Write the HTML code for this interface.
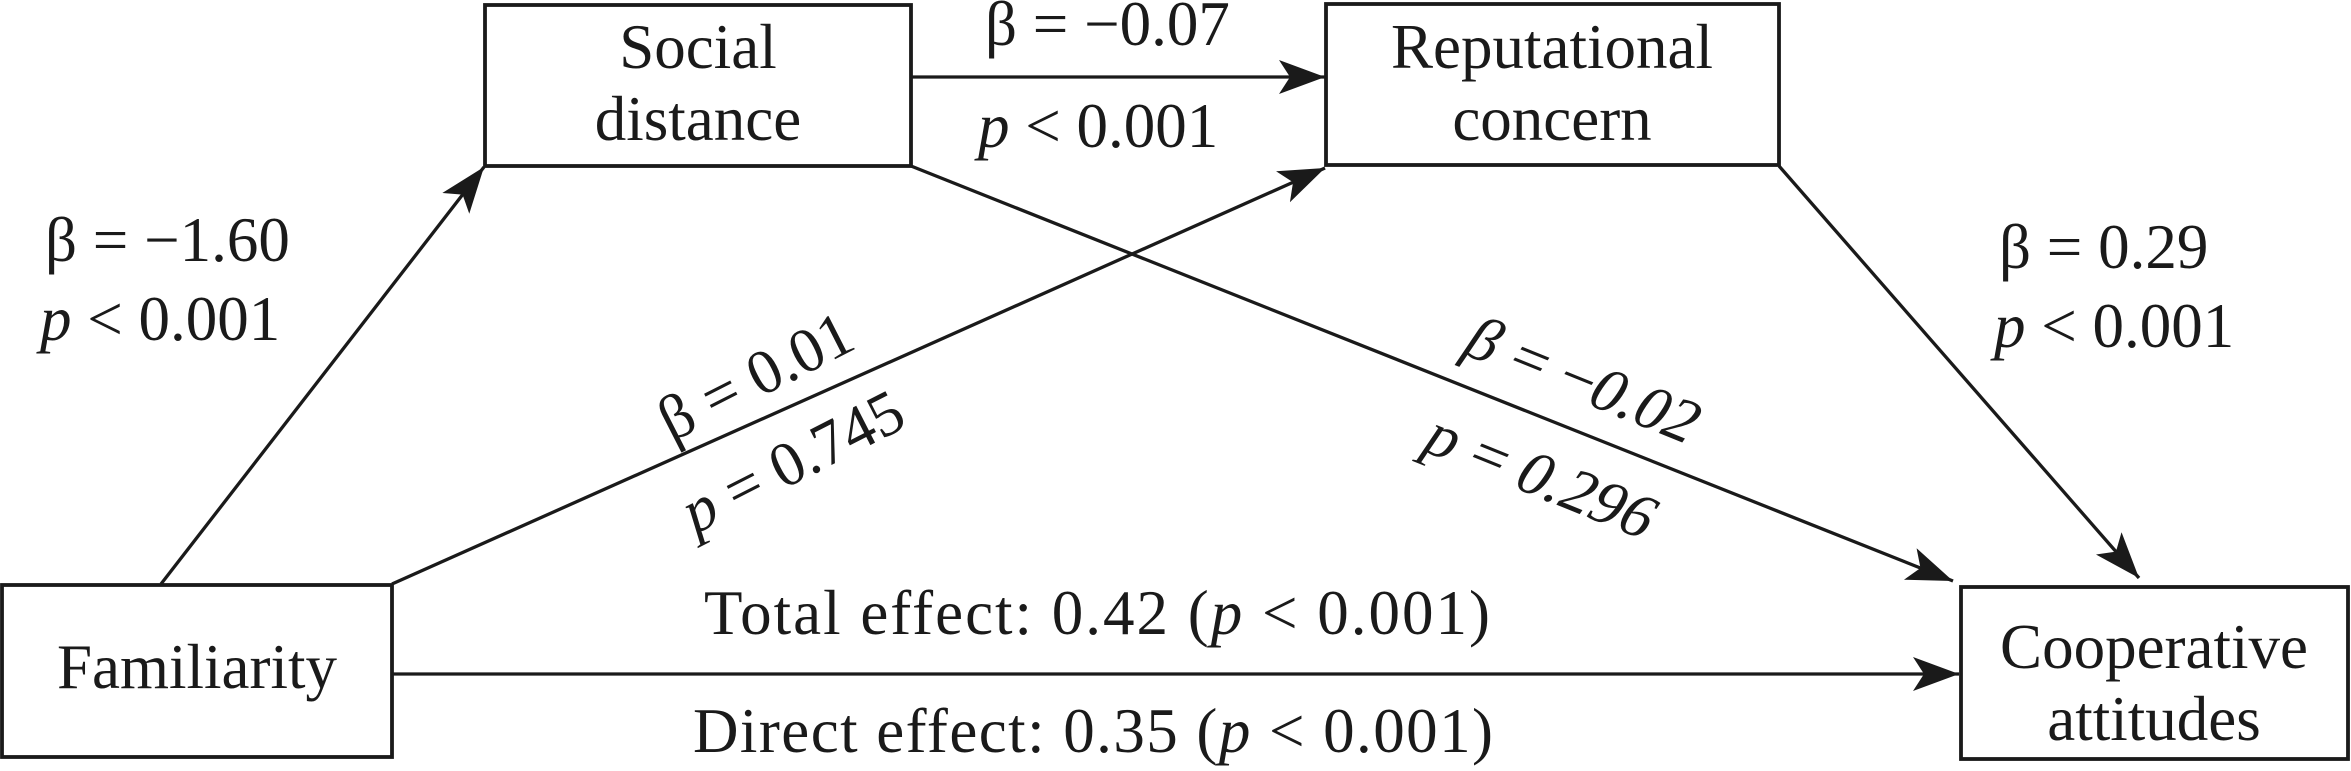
<!DOCTYPE html>
<html><head><meta charset="utf-8"><style>
html,body{margin:0;padding:0;background:#fff;}
svg{display:block;}
text{font-family:"Liberation Serif",serif;font-size:63px;fill:#1a1a1a;}
</style></head><body>
<svg width="2351" height="771" viewBox="0 0 2351 771" xmlns="http://www.w3.org/2000/svg">
<defs>
<marker id="ah" markerUnits="userSpaceOnUse" markerWidth="50" markerHeight="40" refX="46" refY="17" orient="auto">
<path d="M0,0 L46,17 L0,34 L11,17 Z" fill="#1a1a1a"/>
</marker>
</defs>
<g stroke="#1a1a1a" stroke-width="3.8" fill="none">
<rect x="485" y="5" width="426" height="161"/>
<rect x="1326" y="4" width="453" height="161"/>
<rect x="2" y="585" width="390" height="172"/>
<rect x="1961" y="587" width="387" height="172"/>
</g>
<g stroke="#1a1a1a" stroke-width="3.3" fill="none" marker-end="url(#ah)">
<line x1="161" y1="584" x2="484" y2="167"/>
<line x1="392" y1="584" x2="1325" y2="168"/>
<line x1="911" y1="166" x2="1953" y2="581"/>
<line x1="1779" y1="166" x2="2139" y2="578"/>
<line x1="911" y1="77" x2="1325" y2="77"/>
<line x1="392" y1="674" x2="1959" y2="674"/>
</g>
<g text-anchor="middle">
<text x="698" y="68">Social</text>
<text x="698" y="140">distance</text>
<text x="1552" y="68">Reputational</text>
<text x="1552" y="140">concern</text>
<text x="197" y="688">Familiarity</text>
<text x="2154" y="668">Cooperative</text>
<text x="2154" y="740">attitudes</text>
</g>
<text x="45" y="261">β = −1.60</text>
<text x="40" y="340"><tspan font-style="italic">p</tspan> &lt; 0.001</text>
<text x="985" y="45">β = −0.07</text>
<text x="978" y="147"><tspan font-style="italic">p</tspan> &lt; 0.001</text>
<text x="1999" y="268">β = 0.29</text>
<text x="1994" y="347"><tspan font-style="italic">p</tspan> &lt; 0.001</text>
<text x="704" y="634" textLength="786" lengthAdjust="spacing">Total effect:  0.42 (<tspan font-style="italic">p</tspan> &lt; 0.001)</text>
<text x="693" y="752" textLength="800" lengthAdjust="spacing">Direct effect: 0.35 (<tspan font-style="italic">p</tspan> &lt; 0.001)</text>
<g text-anchor="middle">
<text transform="translate(765,395) rotate(-27)">β = 0.01</text>
<text transform="translate(802,480) rotate(-27)"><tspan font-style="italic">p</tspan> = 0.745</text>
<text transform="translate(1572,398) rotate(22) skewX(-12)">β = −0.02</text>
<text transform="translate(1530,494) rotate(22) skewX(-12)">p = 0.296</text>
</g>
</svg>
</body></html>
